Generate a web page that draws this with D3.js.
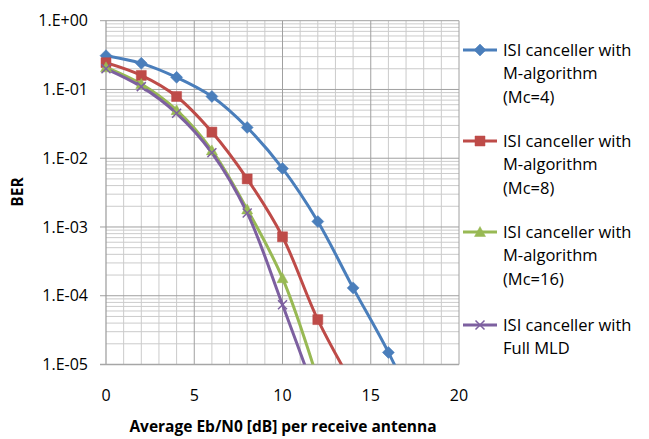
<!DOCTYPE html>
<html lang="en">
<head>
<meta charset="UTF-8">
<script src="https://d3js.org/d3.v7.min.js"></script>
<style>
  html, body { margin: 0; padding: 0; background: #fff; }
  svg text { font-family: 'Open Sans', 'Noto Sans', sans-serif; fill: #000; }
  .tick-lbl { font-size: 16px; }
  .legend text { font-size: 16.5px; }
  .ax-title { font-size: 15.5px; font-weight: bold; }
</style>
</head>
<body>
<div id="chart"></div>
<script>
// ---- data ----
var snr = [0, 2, 4, 6, 8, 10, 12, 14, 16, 18];
var berMc4  = [0.31, 0.24, 0.15, 0.079, 0.028, 0.0071, 0.0012, 1.3e-4, 1.5e-5, 1.2e-6];
var berMc8  = [0.245, 0.16, 0.079, 0.024, 0.005, 7.2e-4, 4.5e-5, 5e-6];
var berMc16 = [0.21, 0.12, 0.05, 0.013, 0.0018, 1.8e-4, 6e-6];
var berMld  = [0.20, 0.11, 0.045, 0.012, 0.0016, 7.4e-5, 3e-6];

var xTicks = [0, 5, 10, 15, 20];
var yTicks = [1, 1e-1, 1e-2, 1e-3, 1e-4, 1e-5];
var yTickLabels = ['1.E+00', '1.E-01', '1.E-02', '1.E-03', '1.E-04', '1.E-05'];

var seriesNames = [
  ['ISI canceller with', 'M-algorithm', '(Mc=4)'],
  ['ISI canceller with', 'M-algorithm', '(Mc=8)'],
  ['ISI canceller with', 'M-algorithm', '(Mc=16)'],
  ['ISI canceller with', 'Full MLD']
];
var seriesData = [berMc4, berMc8, berMc16, berMld];
var seriesColors = ['#4a7ebb', '#be4b48', '#98b954', '#7d60a0'];
var seriesMarkers = ['diamond', 'square', 'triangle', 'x'];

// ---- layout ----
var W = 649, H = 439;
var plotL = 106, plotR = 459, plotT = 20.7, plotB = 364.5;

var svg = d3.select('#chart').append('svg')
  .attr('width', W).attr('height', H);

var x = d3.scaleLinear().domain([0, 20]).range([plotL, plotR]);
var y = d3.scaleLog().domain([1e-5, 1]).range([plotB, plotT]);

// grid
var grid = svg.append('g');
var minorY = [];
for (var e = -5; e < 0; e++) {
  for (var m = 2; m <= 9; m++) minorY.push(m * Math.pow(10, e));
}
grid.selectAll('.minor-y').data(minorY).enter().append('line')
  .attr('x1', plotL).attr('x2', plotR)
  .attr('y1', function(d) { return y(d); }).attr('y2', function(d) { return y(d); })
  .attr('stroke', '#cbcbcb').attr('stroke-width', 1);

var minorX = d3.range(1, 20).filter(function(d) { return d % 5 !== 0; });
grid.selectAll('.minor-x').data(minorX).enter().append('line')
  .attr('y1', plotT).attr('y2', plotB)
  .attr('x1', function(d) { return x(d); }).attr('x2', function(d) { return x(d); })
  .attr('stroke', '#cbcbcb').attr('stroke-width', 1);

grid.selectAll('.major-y').data(yTicks.slice(0, 5)).enter().append('line')
  .attr('x1', plotL - 6).attr('x2', plotR)
  .attr('y1', function(d) { return y(d); }).attr('y2', function(d) { return y(d); })
  .attr('stroke', '#a0a0a0').attr('stroke-width', 1);

grid.selectAll('.major-x').data([5, 10, 15, 20]).enter().append('line')
  .attr('y1', plotT).attr('y2', plotB)
  .attr('x1', function(d) { return x(d); }).attr('x2', function(d) { return x(d); })
  .attr('stroke', '#a0a0a0').attr('stroke-width', 1);

// axis lines
svg.append('line').attr('x1', plotL).attr('x2', plotL).attr('y1', plotT).attr('y2', plotB)
  .attr('stroke', '#9a9a9a').attr('stroke-width', 1.2);
svg.append('line').attr('x1', plotL - 6).attr('x2', plotR).attr('y1', plotB).attr('y2', plotB)
  .attr('stroke', '#a6a6a6').attr('stroke-width', 1.5);

// tick labels
svg.append('g').selectAll('text').data(yTicks).enter().append('text')
  .attr('class', 'tick-lbl')
  .attr('x', plotL - 18)
  .attr('y', function(d) { return y(d); })
  .attr('dy', '0.35em')
  .attr('text-anchor', 'end')
  .text(function(d, i) { return yTickLabels[i]; });

svg.append('g').selectAll('text').data(xTicks).enter().append('text')
  .attr('class', 'tick-lbl')
  .attr('x', function(d) { return x(d); })
  .attr('y', 395)
  .attr('dy', '0.35em')
  .attr('text-anchor', 'middle')
  .text(function(d) { return d; });

// axis titles
svg.append('text').attr('class', 'ax-title')
  .attr('x', 283).attr('y', 427).attr('dy', '0.35em')
  .attr('text-anchor', 'middle')
  .text('Average Eb/N0 [dB] per receive antenna');

svg.append('text').attr('class', 'ax-title')
  .attr('transform', 'translate(18,192) rotate(-90)')
  .attr('dy', '0.35em')
  .attr('text-anchor', 'middle')
  .text('BER');

// markers
function markerPath(kind) {
  if (kind === 'diamond') return 'M0,-6L6,0L0,6L-6,0Z';
  if (kind === 'square') return 'M-5,-5H5V5H-5Z';
  if (kind === 'triangle') return 'M0,-5.5L5.5,4.5H-5.5Z';
  return 'M-4.5,-4.5L4.5,4.5M-4.5,4.5L4.5,-4.5';
}
function drawMarker(sel, kind, color) {
  sel.append('path')
    .attr('d', markerPath(kind))
    .attr('fill', kind === 'x' ? 'none' : color)
    .attr('stroke', color)
    .attr('stroke-width', kind === 'x' ? 1.5 : 0.5);
}

// series lines
svg.append('clipPath').attr('id', 'plot-clip')
  .append('rect').attr('x', plotL).attr('y', plotT)
  .attr('width', plotR - plotL).attr('height', plotB - plotT);

var line = d3.line()
  .x(function(d) { return x(d[0]); })
  .y(function(d) { return y(d[1]); })
  .curve(d3.curveCatmullRom.alpha(0.5));

var plot = svg.append('g').attr('clip-path', 'url(#plot-clip)');

seriesData.forEach(function(vals, s) {
  var pts = vals.map(function(v, i) { return [snr[i], v]; });
  plot.append('path')
    .datum(pts)
    .attr('d', line)
    .attr('fill', 'none')
    .attr('stroke', seriesColors[s])
    .attr('stroke-width', 3);

  pts.filter(function(p) { return p[1] >= 1e-5; }).forEach(function(p) {
    var g = svg.append('g')
      .attr('transform', 'translate(' + x(p[0]) + ',' + y(p[1]) + ')');
    drawMarker(g, seriesMarkers[s], seriesColors[s]);
  });
});

// legend
var legendY = [50, 141, 232, 325];
var legend = svg.append('g').attr('class', 'legend');
seriesNames.forEach(function(lines, s) {
  var g = legend.append('g').attr('transform', 'translate(0,' + legendY[s] + ')');
  g.append('line').attr('x1', 463).attr('x2', 497).attr('y1', 0).attr('y2', 0)
    .attr('stroke', seriesColors[s]).attr('stroke-width', 3);
  var mg = g.append('g').attr('transform', 'translate(480,0)');
  drawMarker(mg, seriesMarkers[s], seriesColors[s]);
  lines.forEach(function(t, k) {
    g.append('text')
      .attr('x', 503)
      .attr('y', k * 23.5)
      .attr('dy', '0.35em')
      .text(t);
  });
});
</script>
</body>
</html>
